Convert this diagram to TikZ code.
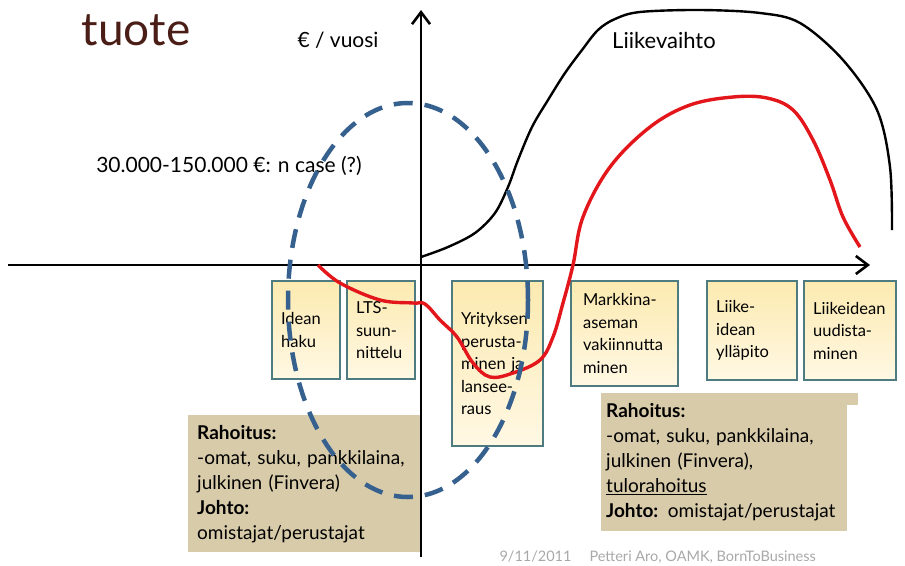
\documentclass[tikz,border=0pt]{standalone}
\usepackage{fontspec}
\setmainfont{Lato}
\usepackage{xcolor}
\usetikzlibrary{arrows.meta}
\definecolor{tuotebrown}{HTML}{4A1E17}
\definecolor{phasetop}{HTML}{FCEAB0}
\definecolor{phasebottom}{HTML}{FFF8E4}
\definecolor{phaseedge}{HTML}{4E7B80}
\definecolor{fundtan}{HTML}{D8CBAA}
\definecolor{ovalblue}{HTML}{36618F}
\definecolor{curvered}{HTML}{E3171B}
\definecolor{footgray}{HTML}{A8A8A8}
\newcommand{\phasefont}{\fontsize{16.5}{22.5}\selectfont}
\newcommand{\fundfont}{\fontsize{19}{25}\selectfont}

\begin{document}
\begin{tikzpicture}[x=1pt,y=-1pt,
    phase/.style={draw=phaseedge, line width=2.2pt, top color=phasetop, bottom color=phasebottom,
      anchor=north west, align=left, inner xsep=9pt, inner ysep=0pt, font=\phasefont},
    fund/.style={fill=fundtan, anchor=north west, align=left, inner xsep=9pt, inner ysep=0pt,
      font=\fundfont},
    axis/.style={line width=2.6pt, -{Straight Barb[length=12pt,width=18pt]}}]
      \useasboundingbox (0,0) rectangle (905,565);
      % titles
      \node (tuote) [text=tuotebrown, font=\fontsize{46}{46}\selectfont] at (136,30) {tuote};
      \node (unit) [font=\fontsize{21}{21}\selectfont] at (338,40) {€ / vuosi};
      \node (cost) [font=\fontsize{21}{21}\selectfont] at (229,166) {30.000-150.000 €: n case (?)};
      \node (sales) [font=\fontsize{22}{22}\selectfont] at (664,40) {Liikevaihto};
      % financing boxes
      \node (fundA) [fund, minimum width=232pt, minimum height=137pt, text width=214pt] at (188,415)
        {\textbf{Rahoitus:}\\-omat, suku, pankkilaina,\\julkinen (Finvera)\\\textbf{Johto:}\\omistajat/perustajat};
      \fill [fundtan] (840,393) rectangle (858,405);
      \node (fundB) [fund, minimum width=246pt, minimum height=138pt, text width=236pt, inner xsep=5pt] at (601,393)
        {\textbf{Rahoitus:}\\-omat, suku, pankkilaina,\\julkinen (Finvera),\\\underline{tulorahoitus}\\\textbf{Johto:} omistajat/perustajat};
      % phases
      \node (idea) [phase, minimum height=98pt, text width=50pt] at (271,280) {Idean\\haku};
      \node (lts) [phase, minimum height=98pt, text width=50pt] at (346,280) {LTS-\\suun-\\nittelu};
      \node (found) [phase, minimum height=165pt, text width=73pt] at (451,280)
        {Yrityksen\\perusta-\\minen ja\\lansee-\\raus};
      \node (market) [phase, minimum height=105pt, text width=83pt, inner xsep=12pt] at (570,280)
        {Markkina-\\aseman\\vakiinnutta\\minen};
      \node (keep) [phase, minimum height=99pt, text width=72pt] at (706,280) {Liike-\\idean\\ylläpito};
      \node (renew) [phase, minimum height=99pt, text width=74pt] at (803,280) {Liikeidean\\uudista-\\minen};
      % axes
      \coordinate (o) at (421,265);
      \coordinate (xs) at (8,265);
      \coordinate (xe) at (870,265);
      \coordinate (ys) at (421,557);
      \coordinate (ye) at (421,10);
      \draw [axis] (xs) -- (xe);
      \draw [axis] (ys) -- (ye);
      % curves
      \draw [line width=2.4pt] plot [smooth, tension=0.55] coordinates {(421,257) (448,247) (475,233)
        (495,213) (508,187) (518,160) (532,127) (548,100) (565,73) (582,50) (598,30) (615,19)
        (640,12) (700,10) (760,13) (800,23) (843,60) (877,110) (890,167) (892,230)};
      \draw [curvered, line width=3.4pt] plot [smooth, tension=0.6] coordinates {(318,265) (340,283)
        (380,300) (413,303) (425,304) (440,320) (457,337) (473,363) (490,377) (513,373) (540,360)
        (553,337) (563,303) (573,265) (583,217) (610,167) (650,127) (690,105) (733,97) (767,98)
        (793,110) (813,140) (830,180) (843,217) (860,247)};
      \draw [ovalblue, line width=4.5pt, dash pattern=on 19pt off 12pt] (408,300)
        ellipse [x radius=120pt, y radius=197pt];
      % footer
      \node (foot) [text=footgray, font=\fontsize{14.5}{14.5}\selectfont, anchor=west] at (496,557)
        {9/11/2011\hspace{18pt}Petteri Aro, OAMK, BornToBusiness};
\end{tikzpicture}
\end{document}
